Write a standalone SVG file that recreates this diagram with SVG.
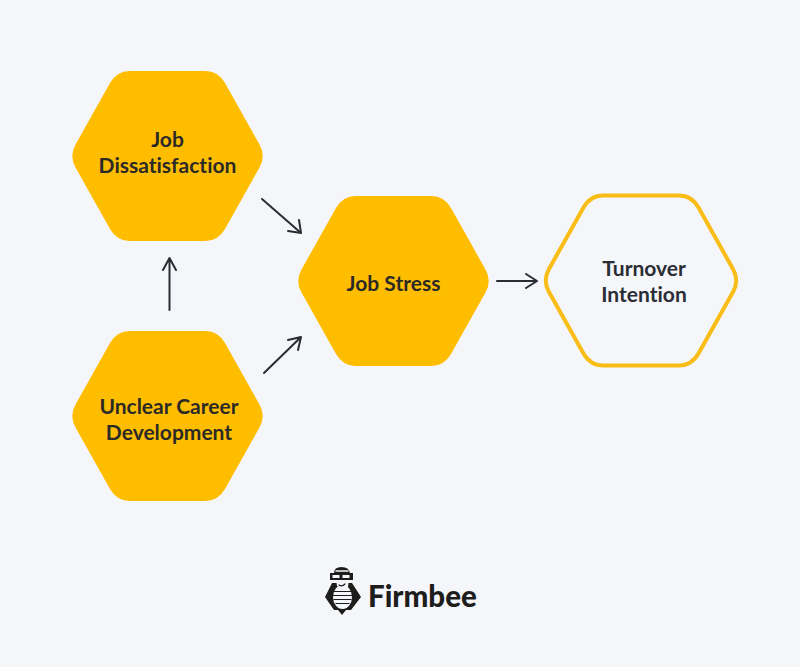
<svg xmlns="http://www.w3.org/2000/svg" width="800" height="667" viewBox="0 0 800 667">
  <style>
    text { font-variant-ligatures: none; }
    .lbl { font-family: Lato, "Liberation Sans", sans-serif; font-weight: 700; font-size: 21px; fill: #2b2a26; text-anchor: middle; }
    .lbl2 { fill: #2a2d34; }
    .solid { fill: #ffbd00; }
    .outline { fill: none; stroke: #f9bd17; stroke-width: 4; }
    .wire { fill: none; stroke: #2a2d34; stroke-width: 2; stroke-linecap: round; stroke-linejoin: round; }
    .mark { fill: #1d1d1b; }
    .cut { fill: #f5f6fa; }
    .stripe { fill: none; stroke: #f5f6fa; stroke-width: 1.600; stroke-linecap: round; }
    .ink { fill: none; stroke: #1d1d1b; stroke-width: 1.200; stroke-linecap: round; }
  </style>
  <defs>
    <path id="hex" d="M-38,-85H38Q50.500,-85 57.500,-73L92,-11.500Q98.500,0 92,11.500L57.500,73Q50.500,85 38,85H-38Q-50.500,85 -57.500,73L-92,11.500Q-98.500,0 -92,-11.500L-57.500,-73Q-50.500,-85 -38,-85Z"/>
  </defs>
  <rect width="800" height="667" fill="#f5f6fa"/>
  <g id="connectors">
    <path class="wire" d="M262,199L301,233M288,231L301,233L299,220"/>
    <path class="wire" d="M169.500,310V258M163,270L169.500,258L176,270"/>
    <path class="wire" d="M264,373L301,337M288,340L301,337L298,350"/>
    <path class="wire" d="M497,281H537M526,274L537,281L526,288"/>
  </g>
  <g id="job-dissatisfaction">
    <use href="#hex" class="solid" x="167.500" y="156"/>
    <text class="lbl" x="167.500" y="147">Job</text>
    <text class="lbl" x="167.500" y="173">Dissatisfaction</text>
  </g>
  <g id="unclear-career-development">
    <use href="#hex" class="solid" x="167.500" y="416"/>
    <text class="lbl" x="169" y="414">Unclear Career</text>
    <text class="lbl" x="169" y="440">Development</text>
  </g>
  <g id="job-stress">
    <use href="#hex" class="solid" x="393.500" y="281"/>
    <text class="lbl" x="393.500" y="291">Job Stress</text>
  </g>
  <g id="turnover-intention">
    <use href="#hex" class="outline" x="641" y="280.500"/>
    <text class="lbl lbl2" x="644" y="276">Turnover</text>
    <text class="lbl lbl2" x="644" y="302">Intention</text>
  </g>
  <g id="firmbee-logo">
    <!-- wings and body -->
    <path class="mark" d="M332,583L352,583L361,597L351,610L346,610L342,615L338,610L334,610L325,597Z"/>
    <!-- belly with dark bands -->
    <ellipse class="cut" cx="342.500" cy="597" rx="9.500" ry="12"/>
    <path class="ink" d="M334,591.500H351M333.500,595.500H352M334,599.500H351M336,603.500H349" stroke-width="2"/>
    <!-- face under the glasses -->
    <path class="cut" d="M336,579H349L348,587Q342,591 337,586Z"/>
    <path class="ink" d="M339,585Q342,587 345,584"/>
    <!-- knitted hat -->
    <path class="mark" d="M334,573Q334,567 341.500,567Q349,567 350,573Z"/>
    <path class="stripe" d="M336,571H348" stroke-width="1"/>
    <!-- glasses -->
    <rect class="mark" x="330" y="573" width="23" height="7"/>
    <rect class="cut" x="332.500" y="575" width="7" height="3"/>
    <rect class="cut" x="342.500" y="575" width="7" height="3"/>
    <text x="368" y="607" font-family="Lato, 'Liberation Sans', sans-serif" font-weight="900" font-size="29.500" fill="#1d1d1b">Firmbee</text>
  </g>
</svg>
